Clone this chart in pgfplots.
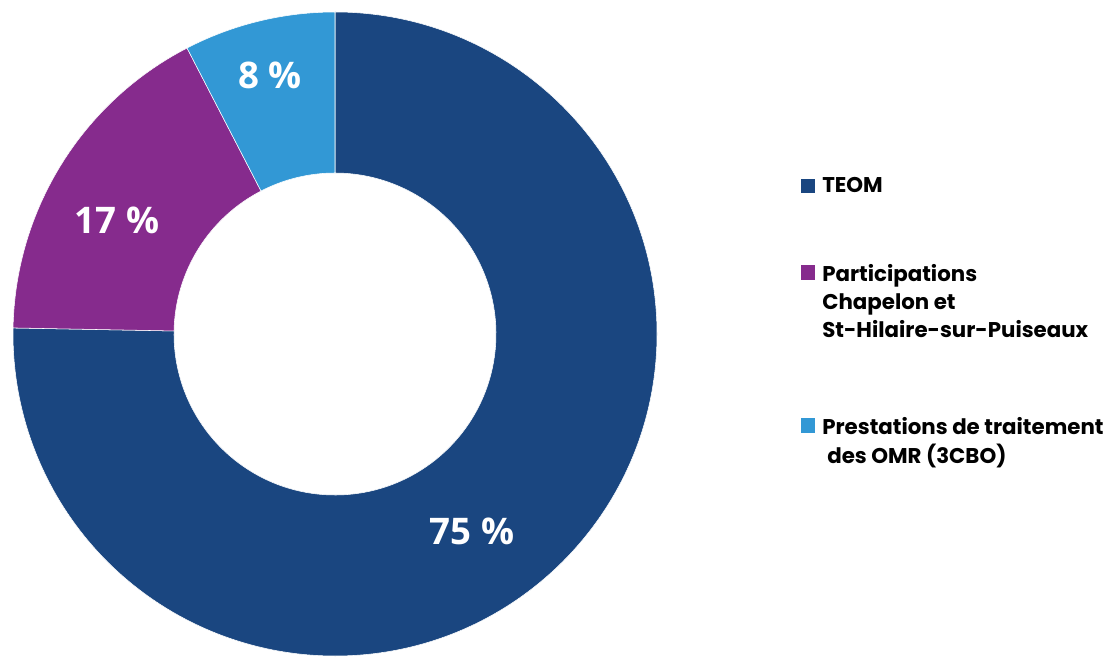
\documentclass[border=0pt]{standalone}
\usepackage{pgfplots}
\pgfplotsset{compat=1.18}
\usepackage{pgfplotstable}
\usepackage{fontspec}
\setmainfont{Poppins}
\newfontfamily\pctfont{Open Sans}

\definecolor{teom}{HTML}{1A4680}
\definecolor{partic}{HTML}{862B8D}
\definecolor{prest}{HTML}{3298D5}

% share in %, colour, label position (image px), label
\pgfplotstableread{
share color  lx  ly  lab
75.3  teom   472 531 75
17.1  partic 117 220 17
7.6   prest  270 75  8
}\slices

\def\Rout{241.5}% pt
\def\Rin{120.75}% pt

\begin{document}
\begin{tikzpicture}
\begin{axis}[
    width=831.75pt, height=492.75pt, scale only axis,
    hide axis,
    xmin=0, xmax=1109, ymin=0, ymax=657,
    clip=false,
]
\path (axis cs:0,0) rectangle (axis cs:1109,657);
\pgfplotsextra{%
  \xdef\angA{90}%
  \foreach \i in {0,1,2}{%
    \pgfplotstablegetelem{\i}{share}\of\slices\let\share\pgfplotsretval
    \pgfplotstablegetelem{\i}{color}\of\slices\let\col\pgfplotsretval
    \pgfmathsetmacro\angB{\angA-3.6*\share}%
    \pgfmathsetmacro\dr{\Rin-\Rout}%
    \fill[fill=\col, draw=white, line width=0.4pt]
      (axis cs:335,323) ++(\angA:\Rout pt)
      arc[start angle=\angA, end angle=\angB, radius=\Rout pt]
      -- ++(\angB:\dr pt)
      arc[start angle=\angB, end angle=\angA, radius=\Rin pt] -- cycle;
    \xdef\angA{\angB}%
  }%
  \foreach \i in {0,1,2}{%
    \pgfplotstablegetelem{\i}{lx}\of\slices\let\lx\pgfplotsretval
    \pgfplotstablegetelem{\i}{ly}\of\slices\pgfmathsetmacro\ly{657-\pgfplotsretval}%
    \pgfplotstablegetelem{\i}{lab}\of\slices\let\lab\pgfplotsretval
    \node[text=white, font={\fontsize{27.5pt}{30pt}\selectfont\pctfont\bfseries}]
      at (axis cs:\lx,\ly) {\lab~\%};
  }%
}
% legend
\fill[teom]   (axis cs:801,464) rectangle (axis cs:815,478);
\fill[partic] (axis cs:801,377) rectangle (axis cs:815,392);
\fill[prest]  (axis cs:801,224) rectangle (axis cs:815,239);
\begin{scope}[every node/.style={anchor=base west, inner sep=0pt,
    font={\fontsize{16pt}{21pt}\selectfont\bfseries}}]
\node at (axis cs:822,464) {TEOM};
\node at (axis cs:822,375) {Participations};
\node at (axis cs:822,347) {Chapelon et};
\node at (axis cs:822,319) {St-Hilaire-sur-Puiseaux};
\node at (axis cs:822,222) {Prestations de traitement};
\node at (axis cs:827,194) {des OMR (3CBO)};
\end{scope}
\end{axis}
\end{tikzpicture}
\end{document}
